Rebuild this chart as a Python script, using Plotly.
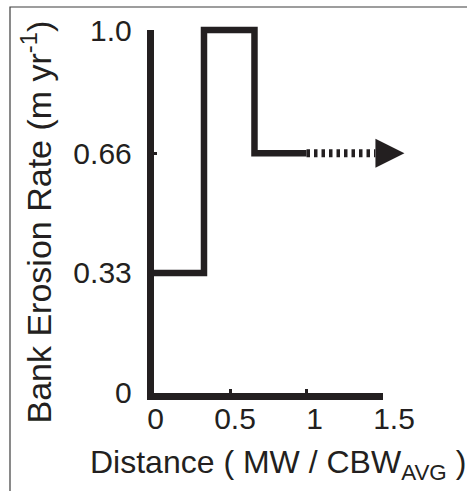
import plotly.graph_objects as go

# Bank erosion rate as a step function of normalised distance
distance = [0.0, 0.33, 0.66, 1.0]
erosion_rate = [0.33, 1.0, 0.66, 0.66]

# Extrapolated constant rate beyond the measured reach
extrap_distance = [1.0, 1.45]
extrap_rate = [0.66, 0.66]
arrow_tip_distance = [1.64]
arrow_tip_rate = [0.66]

x_ticks = [0, 0.5, 1, 1.5]
x_tick_text = ["0", "0.5", "1", "1.5"]
y_ticks = [0, 0.33, 0.66, 1.0]
y_tick_text = ["0", "0.33", "0.66", "1.0"]

W, H = 467, 491
INK = "#231f20"
FONT = "Liberation Sans, Arial, sans-serif"

# pixel geometry of the axes
x0_px, x1_px = 153.5, 383.0      # x = 0 and x = 1.5
y0_px, y1_px = 392.5, 30.0       # y = 0 and y = 1.0 (from top)
kx = (x1_px - x0_px) / 1.5
ky = (y0_px - y1_px) / 1.0
pad = 30.0

fig = go.Figure()

# empty traces so the axis frames get drawn
fig.add_trace(go.Scatter(x=[], y=[], xaxis="x", yaxis="y",
                         hoverinfo="skip", showlegend=False))
fig.add_trace(go.Scatter(x=[], y=[], xaxis="x3", yaxis="y",
                         hoverinfo="skip", showlegend=False))

fig.add_trace(go.Scatter(
    x=distance, y=erosion_rate, mode="lines", line_shape="hv",
    line=dict(color=INK, width=6.5),
    xaxis="x2", yaxis="y2", hoverinfo="skip", showlegend=False,
))
fig.add_trace(go.Scatter(
    x=extrap_distance, y=extrap_rate, mode="lines",
    line=dict(color=INK, width=8, dash="3.5px,4px"),
    xaxis="x2", yaxis="y2", hoverinfo="skip", showlegend=False,
))
fig.add_trace(go.Scatter(
    x=arrow_tip_distance, y=arrow_tip_rate, mode="markers",
    marker=dict(symbol="arrow-right", size=29, color=INK, line=dict(width=0)),
    xaxis="x2", yaxis="y2", cliponaxis=False, hoverinfo="skip", showlegend=False,
))

tick_font = dict(family=FONT, size=30, color=INK)

fig.update_layout(
    width=W, height=H,
    margin=dict(l=0, r=0, t=0, b=0),
    paper_bgcolor="white", plot_bgcolor="rgba(0,0,0,0)",
    xaxis=dict(
        domain=[x0_px / W, x1_px / W], range=[0, 1.5],
        showline=True, linewidth=6.5, linecolor=INK,
        ticks="inside", ticklen=4, tickwidth=2.5, tickcolor=INK,
        tickvals=x_ticks, showticklabels=False,
        showgrid=False, zeroline=False, anchor="y", automargin=False,
    ),
    yaxis=dict(
        domain=[(H - y0_px) / H, (H - y1_px) / H], range=[0, 1.0],
        showline=True, linewidth=6.5, linecolor=INK,
        ticks="inside", ticklen=4, tickwidth=2.5, tickcolor=INK,
        tickvals=y_ticks, ticktext=y_tick_text, tickfont=tick_font,
        ticklabelstandoff=9,
        showgrid=False, zeroline=False, anchor="x", automargin=False,
    ),
    # tick labels for distance
    xaxis3=dict(
        domain=[155.5 / W, 394.0 / W], range=[0, 1.5],
        showline=False, ticks="", tickvals=x_ticks, ticktext=x_tick_text,
        tickfont=tick_font, ticklabelstandoff=5,
        showgrid=False, zeroline=False, anchor="y", automargin=False,
    ),
    # data axes: same scale, padded so thick lines are not clipped
    xaxis2=dict(
        domain=[(x0_px - pad) / W, (x1_px + pad) / W],
        range=[-pad / kx, 1.5 + pad / kx],
        visible=False, anchor="y2",
    ),
    yaxis2=dict(
        domain=[(H - y0_px - pad) / H, (H - y1_px + pad) / H],
        range=[-pad / ky, 1.0 + pad / ky],
        visible=False, anchor="x2",
    ),
    shapes=[dict(
        type="rect", xref="paper", yref="paper",
        x0=10 / W, x1=1.05, y0=-0.05, y1=(H - 7) / H,
        line=dict(color="#3c3c3c", width=1.2), fillcolor="rgba(0,0,0,0)",
        layer="below",
    )],
    annotations=[
        dict(
            text="Bank Erosion Rate (m yr<sup>-1</sup>)",
            xref="paper", yref="paper", x=36 / W, y=(H - 222.5) / H,
            xanchor="center", yanchor="middle", textangle=-90, showarrow=False,
            font=dict(family=FONT, size=34, color=INK),
        ),
        dict(
            text="Distance ( MW / CBW<sub>AVG</sub> )",
            xref="paper", yref="paper", x=88 / W, y=(H - 464) / H,
            xanchor="left", yanchor="middle", showarrow=False,
            font=dict(family=FONT, size=32, color=INK),
        ),
    ],
)

fig.write_html("out.html")
